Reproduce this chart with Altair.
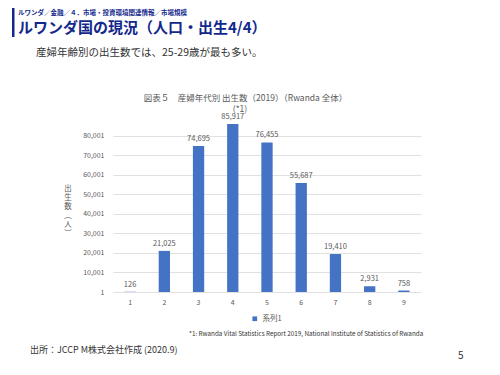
import altair as alt
import pandas as pd

FONT = "Noto Sans CJK JP"

# --- data ---
age_groups = ["1", "2", "3", "4", "5", "6", "7", "8", "9"]
births = [126, 21025, 74695, 85917, 76455, 55687, 19410, 2931, 758]
series_name = "系列1"
y_ticks = [1, 10001, 20001, 30001, 40001, 50001, 60001, 70001, 80001]

header_text = "ルワンダ／金融／４．市場・投資環境関連情報／市場規模"
title_text = "ルワンダ国の現況（人口・出生4/4）"
subtitle_text = "産婦年齢別の出生数では、25-29歳が最も多い。"
chart_title_text = "図表５　産婦年代別 出生数（2019）（Rwanda 全体）"
chart_note_mark = "(*1)"
footnote_text = "*1: Rwanda Vital Statistics Report 2019, National Institute of Statistics of Rwanda"
source_text = "出所：JCCP M株式会社作成 (2020.9)"
page_text = "5"
y_title = "出\n生\n数\n︵\n人\n︶"

df = pd.DataFrame({"age": age_groups, "births": births, "series": [series_name] * len(age_groups)})

NAVY = "#13288C"
GRAY = "#595959"

x_enc = alt.X("age:N", sort=age_groups,
              scale=alt.Scale(paddingInner=0.67, paddingOuter=0.335),
              axis=alt.Axis(labelAngle=0, domain=False, ticks=False, labelPadding=6,
                            labelFontSize=7, labelColor=GRAY, labelFont=FONT, title=None))
y_enc = alt.Y("births:Q", scale=alt.Scale(domain=[1, 90001], zero=False, nice=False),
              axis=alt.Axis(values=y_ticks, format=",d", domain=False, ticks=False,
                            labelOverlap=False,
                            labelPadding=9, labelFontSize=7, labelColor=GRAY, labelFont=FONT,
                            gridColor="#d9d9d9", gridWidth=0.8, title=None))

bars = alt.Chart(df).mark_bar().encode(
    x=x_enc, y=y_enc,
    color=alt.Color("series:N", scale=alt.Scale(domain=[series_name], range=["#4472C4"]),
                    legend=alt.Legend(orient="none", legendX=138, legendY=199, title=None,
                                      symbolType="square", symbolSize=22,
                                      labelFontSize=7.5, labelColor=GRAY, labelFont=FONT,
                                      symbolStrokeWidth=0)),
)

labels = alt.Chart(df).mark_text(dy=-7, fontSize=7.5, color=GRAY, font=FONT).encode(
    x=x_enc, y=y_enc,
    text=alt.Text("births:Q", format=","),
)


def txt(s, x, y, size, color, weight="normal", align="left", baseline="middle", **kw):
    return alt.Chart(pd.DataFrame({"t": [s]})).mark_text(
        fontSize=size, color=color, fontWeight=weight, align=align,
        baseline=baseline, font=FONT, **kw,
    ).encode(x=alt.value(x), y=alt.value(y), text="t:N")


bar_df = pd.DataFrame({"k": [0]})
side_bar = alt.Chart(bar_df).mark_rect(color=NAVY).encode(
    x=alt.value(-101), x2=alt.value(-98.5), y=alt.value(-114), y2=alt.value(-79))

chart = alt.layer(
    bars, labels, side_bar,
    txt(header_text, -95, -103.5, 6.5, NAVY, "bold"),
    txt(title_text, -95, -88.5, 15, NAVY, "bold"),
    txt(subtitle_text, -77, -63.5, 10.5, "#333333"),
    txt(chart_title_text, 132.5, -18, 8.5, GRAY, align="center"),
    txt(chart_note_mark, 127, -7, 8.5, GRAY, align="center"),
    txt(y_title, -45, 69, 7.5, GRAY, align="center", baseline="top",
        lineBreak="\n", lineHeight=9),
    txt(footnote_text, 189 - 113, 218, 6.3, "#333333"),
    txt(source_text, -83, 234, 9, "#333333"),
    txt(page_text, 345, 240, 10, "#333333"),
).properties(
    width=308, height=176,
    padding={"left": 105, "top": 108, "right": 71, "bottom": 75},
    autosize=alt.AutoSizeParams(type="none"),
).configure_view(stroke=None).configure_axis(labelOverlap=False)

chart.save("out.html", embed_options={"renderer": "svg", "actions": False})
